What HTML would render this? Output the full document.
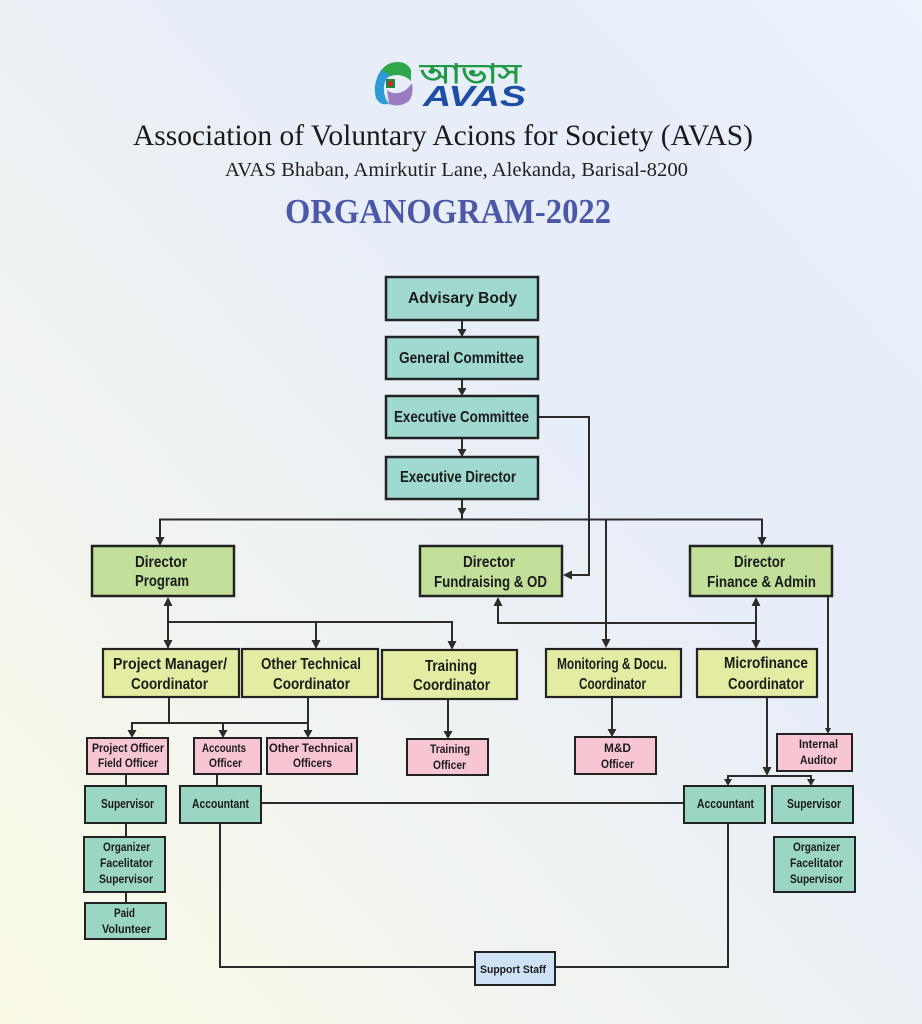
<!DOCTYPE html>
<html>
<head>
<meta charset="utf-8">
<style>
html,body{margin:0;padding:0;}
body{width:922px;height:1024px;overflow:hidden;position:relative;
background:linear-gradient(to top right,#fbfbe5 0%,#f1f4f0 30%,#e8eef8 60%,#e7eefa 80%,#edf3fb 100%);}
svg{position:absolute;left:0;top:0;}
.b{font-family:"Liberation Sans",sans-serif;font-weight:bold;fill:#1b1b1b;}
</style>
</head>
<body>
<svg width="922" height="1024" viewBox="0 0 922 1024" xmlns="http://www.w3.org/2000/svg">
  <!-- Logo -->
  <g>
    <path d="M379,74 Q385,62 398,62 Q407,62 411,70 L411,81 Q405,75 397,75 Q389,75 385,80 Z" fill="#2ea84a"/>
    <path d="M381,70 Q372,84 376,98 Q380,106 389,104 Q383,96 384,86 Q385,79 390,75 Z" fill="#2e9bd6"/>
    <path d="M389,104 Q400,108 409,101 Q414,94 412,83 Q406,92 398,93 Q392,94 387,90 Z" fill="#9b7cc0"/>
    <rect x="386" y="79" width="9" height="9" fill="#1d8a3c"/>
    <circle cx="390.5" cy="83.5" r="2.6" fill="#d8262d"/>
    <text x="420" y="83" font-family="'Liberation Sans','Noto Sans CJK SC',sans-serif" font-size="27" font-weight="bold" fill="#1f9a44" textLength="101" lengthAdjust="spacingAndGlyphs">আভাস</text>
    <text x="423" y="106" font-family="'Liberation Sans',sans-serif" font-size="29" font-weight="bold" font-style="italic" fill="#1c4ea3" textLength="103" lengthAdjust="spacingAndGlyphs">AVAS</text>
  </g>
  <!-- Header -->
  <text x="133" y="145" font-family="'Liberation Serif',serif" font-size="30" fill="#1a1a1a" textLength="620" lengthAdjust="spacingAndGlyphs">Association of Voluntary Acions for Society (AVAS)</text>
  <text x="225" y="176" font-family="'Liberation Serif',serif" font-size="20" fill="#222" textLength="463" lengthAdjust="spacingAndGlyphs">AVAS Bhaban, Amirkutir Lane, Alekanda, Barisal-8200</text>
  <text x="285" y="223" font-family="'Liberation Serif',serif" font-size="35" font-weight="bold" fill="#4b58a8" textLength="326" lengthAdjust="spacingAndGlyphs">ORGANOGRAM-2022</text>

  <!-- Connectors -->
  <g stroke="#2b2b2b" stroke-width="2" fill="none">
    <line x1="462" y1="320" x2="462" y2="332"/>
    <line x1="462" y1="379" x2="462" y2="391"/>
    <line x1="462" y1="438" x2="462" y2="452"/>
    <line x1="462" y1="499" x2="462" y2="519"/>
    <line x1="159" y1="519.5" x2="763" y2="519.5"/>
    <line x1="160" y1="519" x2="160" y2="540"/>
    <line x1="762" y1="519" x2="762" y2="540"/>
    <line x1="606" y1="519" x2="606" y2="642"/>
    <polyline points="538,417 589,417 589,575 568,575"/>
    <line x1="168" y1="602" x2="168" y2="643"/>
    <line x1="168" y1="622" x2="453" y2="622"/>
    <line x1="316" y1="622" x2="316" y2="643"/>
    <line x1="452" y1="622" x2="452" y2="644"/>
    <polyline points="498,602 498,623 757,623"/>
    <line x1="756" y1="602" x2="756" y2="643"/>
    <line x1="828" y1="596" x2="828" y2="730"/>
    <line x1="169" y1="697" x2="169" y2="723"/>
    <line x1="131" y1="723" x2="309" y2="723"/>
    <line x1="132" y1="723" x2="132" y2="733"/>
    <line x1="223" y1="723" x2="223" y2="733"/>
    <line x1="308" y1="697" x2="308" y2="733"/>
    <line x1="448" y1="699" x2="448" y2="733"/>
    <line x1="612" y1="697" x2="612" y2="731"/>
    <line x1="767" y1="697" x2="767" y2="769"/>
    <line x1="727" y1="776" x2="812" y2="776"/>
    <line x1="728" y1="776" x2="728" y2="782"/>
    <line x1="811" y1="776" x2="811" y2="782"/>
    <line x1="126" y1="774" x2="126" y2="786"/>
    <line x1="126" y1="823" x2="126" y2="837"/>
    <line x1="126" y1="892" x2="126" y2="903"/>
    <line x1="217" y1="774" x2="217" y2="786"/>
    <line x1="261" y1="803" x2="684" y2="803"/>
    <polyline points="220,823 220,967 475,967"/>
    <polyline points="555,967 728,967 728,823"/>
  </g>
  <!-- Arrowheads -->
  <g fill="#2b2b2b">
    <polygon points="457.5,329 466.5,329 462,337"/>
    <polygon points="457.5,388 466.5,388 462,396"/>
    <polygon points="457.5,449 466.5,449 462,457"/>
    <polygon points="457.5,508 466.5,508 462,516"/>
    <polygon points="155.5,537 164.5,537 160,546"/>
    <polygon points="757.5,537 766.5,537 762,546"/>
    <polygon points="601.5,639 610.5,639 606,648"/>
    <polygon points="572,570.5 572,579.5 563,575"/>
    <polygon points="163.5,606 172.5,606 168,597"/>
    <polygon points="163.5,640 172.5,640 168,649"/>
    <polygon points="311.5,640 320.5,640 316,649"/>
    <polygon points="447.5,641 456.5,641 452,650"/>
    <polygon points="493.5,606 502.5,606 498,597"/>
    <polygon points="751.5,606 760.5,606 756,597"/>
    <polygon points="751.5,640 760.5,640 756,649"/>
    <polygon points="825,728 831,728 828,734"/>
    <polygon points="127.5,730 136.5,730 132,738"/>
    <polygon points="218.5,730 227.5,730 223,738"/>
    <polygon points="303.5,730 312.5,730 308,738"/>
    <polygon points="443.5,731 452.5,731 448,739"/>
    <polygon points="607.5,729 616.5,729 612,737"/>
    <polygon points="762.5,767 771.5,767 767,776"/>
    <polygon points="724,779 732,779 728,786"/>
    <polygon points="807,779 815,779 811,786"/>
  </g>

  <!-- Top boxes -->
  <g stroke="#222" stroke-width="2.5" fill="#9fd9cf">
    <rect x="386" y="277" width="152" height="43"/>
    <rect x="386" y="337" width="152" height="42"/>
    <rect x="386" y="396" width="152" height="42"/>
    <rect x="386" y="457" width="152" height="42"/>
  </g>
  <!-- Director boxes -->
  <g stroke="#222" stroke-width="2.5" fill="#c3e09b">
    <rect x="92" y="546" width="142" height="50"/>
    <rect x="420" y="546" width="142" height="50"/>
    <rect x="690" y="546" width="142" height="50"/>
  </g>
  <!-- Coordinators -->
  <g stroke="#222" stroke-width="2.2" fill="#e3eca2">
    <rect x="103" y="649" width="136" height="48"/>
    <rect x="242" y="649" width="136" height="48"/>
    <rect x="382" y="650" width="135" height="49"/>
    <rect x="546" y="649" width="135" height="48"/>
    <rect x="697" y="649" width="120" height="48"/>
  </g>
  <!-- Pink -->
  <g stroke="#222" stroke-width="2" fill="#f8c5d3">
    <rect x="87" y="738" width="81" height="36"/>
    <rect x="194" y="738" width="67" height="36"/>
    <rect x="267" y="738" width="90" height="36"/>
    <rect x="407" y="739" width="81" height="36"/>
    <rect x="575" y="737" width="81" height="37"/>
    <rect x="777" y="734" width="75" height="37"/>
  </g>
  <!-- Teal small -->
  <g stroke="#222" stroke-width="2" fill="#9bd6c5">
    <rect x="85" y="786" width="81" height="37"/>
    <rect x="180" y="786" width="81" height="37"/>
    <rect x="84" y="837" width="81" height="55"/>
    <rect x="85" y="903" width="81" height="36"/>
    <rect x="684" y="786" width="81" height="37"/>
    <rect x="772" y="786" width="81" height="37"/>
    <rect x="774" y="837" width="81" height="55"/>
  </g>
  <rect x="475" y="952" width="80" height="33" fill="#cfe1f5" stroke="#222" stroke-width="2"/>

  <!-- Labels -->
  <g class="b" font-size="16">
    <text x="408" y="303" textLength="109" lengthAdjust="spacingAndGlyphs">Advisary Body</text>
    <text x="399" y="363" textLength="125" lengthAdjust="spacingAndGlyphs">General Committee</text>
    <text x="394" y="422" textLength="135" lengthAdjust="spacingAndGlyphs">Executive Committee</text>
    <text x="400" y="482" textLength="116" lengthAdjust="spacingAndGlyphs">Executive Director</text>
    <text x="135" y="567" textLength="52" lengthAdjust="spacingAndGlyphs">Director</text>
    <text x="135" y="586" textLength="54" lengthAdjust="spacingAndGlyphs">Program</text>
    <text x="463" y="567" textLength="52" lengthAdjust="spacingAndGlyphs">Director</text>
    <text x="434" y="587" textLength="113" lengthAdjust="spacingAndGlyphs">Fundraising &amp; OD</text>
    <text x="734" y="567" textLength="51" lengthAdjust="spacingAndGlyphs">Director</text>
    <text x="707" y="587" textLength="109" lengthAdjust="spacingAndGlyphs">Finance &amp; Admin</text>
  </g>
  <g class="b" font-size="15.5">
    <text x="113" y="669" textLength="114" lengthAdjust="spacingAndGlyphs">Project Manager/</text>
    <text x="131" y="689" textLength="77" lengthAdjust="spacingAndGlyphs">Coordinator</text>
    <text x="261" y="669" textLength="100" lengthAdjust="spacingAndGlyphs">Other Technical</text>
    <text x="273" y="689" textLength="77" lengthAdjust="spacingAndGlyphs">Coordinator</text>
    <text x="425" y="671" textLength="52" lengthAdjust="spacingAndGlyphs">Training</text>
    <text x="413" y="690" textLength="77" lengthAdjust="spacingAndGlyphs">Coordinator</text>
    <text x="557" y="669" textLength="110" lengthAdjust="spacingAndGlyphs">Monitoring &amp; Docu.</text>
    <text x="579" y="689" textLength="67" lengthAdjust="spacingAndGlyphs">Coordinator</text>
    <text x="724" y="668" textLength="84" lengthAdjust="spacingAndGlyphs">Microfinance</text>
    <text x="728" y="689" textLength="76" lengthAdjust="spacingAndGlyphs">Coordinator</text>
  </g>
  <g class="b" font-size="11.5">
    <text x="92" y="752" textLength="72" lengthAdjust="spacingAndGlyphs">Project Officer</text>
    <text x="98" y="767" textLength="60" lengthAdjust="spacingAndGlyphs">Field Officer</text>
    <text x="202" y="752" textLength="44" lengthAdjust="spacingAndGlyphs">Accounts</text>
    <text x="209" y="767" textLength="33" lengthAdjust="spacingAndGlyphs">Officer</text>
    <text x="269" y="752" textLength="84" lengthAdjust="spacingAndGlyphs">Other Technical</text>
    <text x="293" y="767" textLength="39" lengthAdjust="spacingAndGlyphs">Officers</text>
    <text x="430" y="753" textLength="40" lengthAdjust="spacingAndGlyphs">Training</text>
    <text x="433" y="769" textLength="33" lengthAdjust="spacingAndGlyphs">Officer</text>
    <text x="604" y="752" textLength="27" lengthAdjust="spacingAndGlyphs">M&amp;D</text>
    <text x="601" y="768" textLength="33" lengthAdjust="spacingAndGlyphs">Officer</text>
    <text x="799" y="748" textLength="39" lengthAdjust="spacingAndGlyphs">Internal</text>
    <text x="800" y="764" textLength="37" lengthAdjust="spacingAndGlyphs">Auditor</text>
    <text x="103" y="851" textLength="47" lengthAdjust="spacingAndGlyphs">Organizer</text>
    <text x="100" y="867" textLength="53" lengthAdjust="spacingAndGlyphs">Facelitator</text>
    <text x="99" y="883" textLength="54" lengthAdjust="spacingAndGlyphs">Supervisor</text>
    <text x="114" y="917" textLength="21" lengthAdjust="spacingAndGlyphs">Paid</text>
    <text x="102" y="933" textLength="49" lengthAdjust="spacingAndGlyphs">Volunteer</text>
    <text x="793" y="851" textLength="47" lengthAdjust="spacingAndGlyphs">Organizer</text>
    <text x="790" y="867" textLength="53" lengthAdjust="spacingAndGlyphs">Facelitator</text>
    <text x="790" y="883" textLength="53" lengthAdjust="spacingAndGlyphs">Supervisor</text>
  </g>
  <g class="b" font-size="12.5">
    <text x="101" y="808" textLength="53" lengthAdjust="spacingAndGlyphs">Supervisor</text>
    <text x="192" y="808" textLength="57" lengthAdjust="spacingAndGlyphs">Accountant</text>
    <text x="697" y="808" textLength="57" lengthAdjust="spacingAndGlyphs">Accountant</text>
    <text x="787" y="808" textLength="54" lengthAdjust="spacingAndGlyphs">Supervisor</text>
  </g>
  <text class="b" x="480" y="973" font-size="11" textLength="66" lengthAdjust="spacingAndGlyphs">Support Staff</text>
</svg>
</body>
</html>
